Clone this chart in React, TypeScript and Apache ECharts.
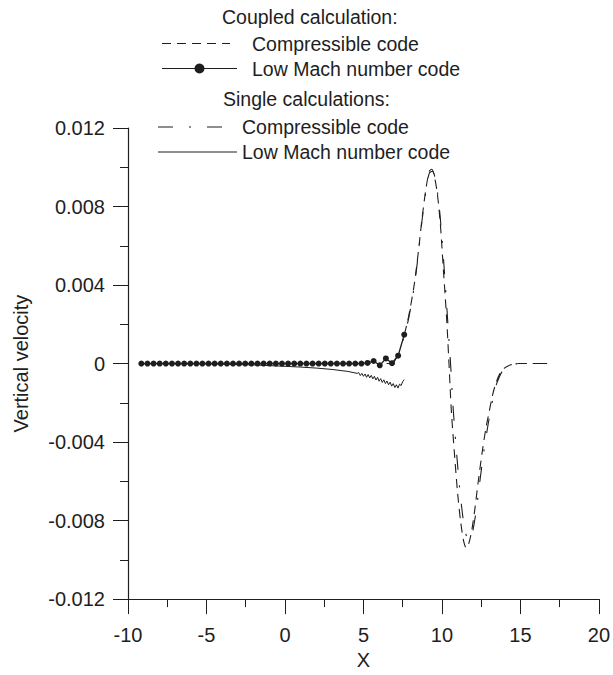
import React, { useEffect, useRef } from "react";
import * as echarts from "echarts";

// ---------- data ----------
const xTicks = [-10, -5, 0, 5, 10, 15, 20];
const yTicks = [-0.012, -0.008, -0.004, 0, 0.004, 0.008, 0.012];

const coupledCompX = [7.6, 7.8, 8.0, 8.25, 8.5, 8.75, 9.0, 9.2, 9.35, 9.5, 9.7, 9.9, 10.1, 10.3, 10.45, 10.6, 10.8, 11.0, 11.2, 11.4, 11.55, 11.7, 11.9, 12.1, 12.3, 12.55, 12.8, 13.0, 13.2, 13.4, 13.7, 14.0, 14.4, 14.8, 15.5, 16.7];
const coupledCompY = [0.00147, 0.0021, 0.0029, 0.0041, 0.0057, 0.0075, 0.009, 0.0098, 0.0099, 0.0096, 0.0087, 0.0071, 0.0047, 0.0023, 0.0, -0.0024, -0.0046, -0.0066, -0.0081, -0.0091, -0.0094, -0.0092, -0.0085, -0.0074, -0.0061, -0.0046, -0.0033, -0.0025, -0.0017, -0.0011, -0.0005, -0.00022, -0.00006, 0, 0, 0];

const coupledLowMachX = [-9.15, -8.76, -8.37, -7.98, -7.59, -7.2, -6.81, -6.42, -6.03, -5.64, -5.26, -4.87, -4.48, -4.09, -3.7, -3.31, -2.92, -2.53, -2.14, -1.75, -1.36, -0.97, -0.58, -0.19, 0.2, 0.59, 0.98, 1.37, 1.76, 2.15, 2.54, 2.92, 3.31, 3.7, 4.09, 4.48, 4.87, 5.26, 5.65, 6.04, 6.43, 6.82, 7.21, 7.6];
const coupledLowMachY = [0, 0, 0, 0, 0, 0, 0, 0, 0, 0, 0, 0, 0, 0, 0, 0, 0, 0, 0, 0, 0, 0, 0, 0, 0, 0, 0, 0, 0, 0, 0, 0, 0, 0, 0, 0, 0, 0.00003, 0.00013, -0.00009, 0.00026, 0.00002, 0.0004, 0.00147];

const singleCompX = [-9.15, 6.8, 7.1, 7.35, 7.6, 7.8, 8.0, 8.25, 8.5, 8.75, 9.0, 9.2, 9.4, 9.6, 9.8, 10.0, 10.2, 10.4, 10.55, 10.7, 10.9, 11.1, 11.3, 11.5, 11.7, 11.85, 12.0, 12.2, 12.4, 12.65, 12.9, 13.1, 13.3, 13.5, 13.8, 14.1, 14.5, 14.9, 15.5, 16.7];
const singleCompY = [0, 0, 0.0003, 0.0008, 0.0014, 0.002, 0.0028, 0.004, 0.0056, 0.0074, 0.0089, 0.0097, 0.0098, 0.0093, 0.0082, 0.0064, 0.0042, 0.0018, 0, -0.0021, -0.0042, -0.0061, -0.0076, -0.0086, -0.009, -0.0089, -0.0084, -0.0074, -0.0061, -0.0046, -0.0033, -0.0024, -0.0016, -0.001, -0.00045, -0.00018, -0.00005, 0, 0, 0];

const singleLowMachX = [-9.15, -6, -4, -2, 0, 1, 2, 3, 4, 4.6, 4.7, 4.8, 4.9, 5.0, 5.1, 5.2, 5.3, 5.4, 5.5, 5.6, 5.7, 5.8, 5.9, 6.0, 6.1, 6.2, 6.3, 6.4, 6.5, 6.6, 6.7, 6.8, 6.9, 7.0, 7.1, 7.2, 7.3, 7.4, 7.5, 7.6];
const singleLowMachY = [0, -0.00001, -0.00003, -0.00007, -0.00014, -0.00018, -0.00023, -0.0003, -0.0004, -0.0005, -0.00046, -0.00061, -0.0005, -0.00065, -0.00053, -0.0007, -0.00056, -0.00073, -0.0006, -0.00078, -0.00065, -0.00084, -0.0007, -0.0009, -0.00077, -0.00096, -0.00083, -0.00102, -0.00089, -0.00108, -0.00095, -0.00115, -0.00102, -0.00122, -0.00108, -0.00125, -0.00105, -0.00112, -0.00092, -0.00082];

const legendHeads = ["Coupled calculation:", "Single calculations:"];
const legendItems = ["Compressible code", "Low Mach number code"];

const zip = (xs: number[], ys: number[]) => xs.map((x, i) => [x, ys[i]]);

const INK = "#1e1e1e";
const FONT = "Liberation Sans, Arial, sans-serif";
const DASHED = [9, 6];
const DASHDOT = [15, 16, 2, 16];

export default function App() {
  const ref = useRef<HTMLDivElement>(null);

  useEffect(() => {
    if (!ref.current) return;
    const chart = echarts.init(ref.current, null, { renderer: "svg" });

    const txt = (text: string, x: number, y: number, align = "left") => ({
      type: "text",
      x,
      y,
      style: {
        text,
        fill: INK,
        fontSize: 19.5,
        fontFamily: FONT,
        align,
        verticalAlign: "middle",
        textAlign: align,
        textVerticalAlign: "middle",
      },
      z: 10,
    });
    const seg = (x1: number, x2: number, y: number, dash?: number[]) => ({
      type: "line",
      shape: { x1, y1: y, x2, y2: y },
      style: { stroke: INK, lineWidth: 1.1, lineDash: dash },
      z: 10,
    });

    chart.setOption({
      animation: false,
      backgroundColor: "#ffffff",
      grid: { left: 128, right: 11, top: 128, bottom: 73, containLabel: false },
      xAxis: {
        type: "value",
        min: xTicks[0],
        max: xTicks[xTicks.length - 1],
        interval: 5,
        name: "X",
        nameLocation: "middle",
        nameGap: 44,
        nameTextStyle: { color: INK, fontSize: 20, fontFamily: FONT },
        axisLine: { show: true, onZero: false, lineStyle: { color: INK, width: 1.2 } },
        axisTick: { show: true, inside: false, length: 15, lineStyle: { color: INK, width: 1 } },
        minorTick: { show: true, splitNumber: 2, length: 8, lineStyle: { color: INK, width: 1 } },
        axisLabel: { color: INK, fontSize: 20, fontFamily: FONT, margin: 26 },
        splitLine: { show: false },
      },
      yAxis: {
        type: "value",
        min: yTicks[0],
        max: yTicks[yTicks.length - 1],
        interval: 0.004,
        name: "Vertical velocity",
        nameLocation: "middle",
        nameGap: 97,
        nameTextStyle: { color: INK, fontSize: 20, fontFamily: FONT },
        axisLine: { show: true, onZero: false, lineStyle: { color: INK, width: 1.2 } },
        axisTick: { show: true, inside: false, length: 15, lineStyle: { color: INK, width: 1 } },
        minorTick: { show: true, splitNumber: 2, length: 8, lineStyle: { color: INK, width: 1 } },
        axisLabel: {
          color: INK,
          fontSize: 20,
          fontFamily: FONT,
          margin: 23,
          formatter: (v: number) => String(+v.toFixed(3)),
        },
        splitLine: { show: false },
      },
      series: [
        {
          name: "Coupled compressible",
          type: "line",
          data: zip(coupledCompX, coupledCompY),
          symbol: "none",
          smooth: 0.3,
          lineStyle: { color: INK, width: 1.1, type: DASHED },
          z: 3,
        },
        {
          name: "Coupled low Mach",
          type: "line",
          data: zip(coupledLowMachX, coupledLowMachY),
          symbol: "circle",
          symbolSize: 6,
          showSymbol: true,
          showAllSymbol: true,
          itemStyle: { color: INK },
          lineStyle: { color: INK, width: 1.3 },
          z: 4,
        },
        {
          name: "Single compressible",
          type: "line",
          data: zip(singleCompX, singleCompY),
          symbol: "none",
          smooth: 0.3,
          lineStyle: { color: INK, width: 1.1, type: DASHDOT },
          z: 2,
        },
        {
          name: "Single low Mach",
          type: "line",
          data: zip(singleLowMachX, singleLowMachY),
          symbol: "none",
          lineStyle: { color: INK, width: 1 },
          z: 2,
        },
      ],
      graphic: [
        txt(legendHeads[0], 222, 17),
        seg(162, 230, 43.5, DASHED),
        txt(legendItems[0], 252, 43.5),
        seg(162, 237, 68.5),
        {
          type: "circle",
          shape: { cx: 199.5, cy: 68.5, r: 5 },
          style: { fill: INK },
          z: 11,
        },
        txt(legendItems[1], 252, 68.5),
        txt(legendHeads[1], 223, 98.5),
        seg(158, 227, 127, DASHDOT),
        txt(legendItems[0], 242, 127),
        seg(158, 237, 152),
        txt(legendItems[1], 242, 152),
      ],
    });

    return () => chart.dispose();
  }, []);

  return (
    <div
      ref={ref}
      style={{ position: "absolute", left: 0, top: 0, width: 613, height: 675, background: "#fff" }}
    />
  );
}
